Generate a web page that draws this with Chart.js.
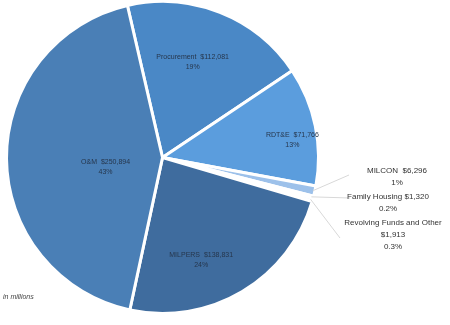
<!DOCTYPE html>
<html><head><meta charset="utf-8">
<script src="https://cdn.jsdelivr.net/npm/chart.js@4"></script>
<style>html,body{margin:0;padding:0;background:#fff}#w{width:450px;height:325px;position:relative}</style>
</head><body><div id="w"><canvas id="c" width="450" height="325"></canvas></div>
<script>
const categories = ["Procurement", "RDT&E", "MILCON", "Family Housing", "Revolving Funds and Other", "MILPERS", "O&M"];
const amounts = [112081, 71766, 6296, 1320, 1913, 138831, 250894];
const amountLabels = ["$112,081", "$71,766", "$6,296", "$1,320", "$1,913", "$138,831", "$250,894"];
const percentLabels = ["19%", "13%", "1%", "0.2%", "0.3%", "24%", "43%"];

const colors = ["#4a88c6", "#5b9ddd", "#9dc1ea", "#c6d9ef", "#e3ecf7", "#3f6c9e", "#4a7fb6"];
// inside label placement: radial fraction, angular shift (deg)
const inside = {0:[0.64,-4], 1:[0.84,4], 5:[0.70,10], 6:[0.37,-9]};
// outside labels: anchor of leader line end and text center
const outside = {
  2:{end:[349,175], text:[397,171], lines:["MILCON  $6,296","1%"]},
  3:{end:[350,198], text:[388,197], lines:["Family Housing $1,320","0.2%"]},
  4:{end:[340,238], text:[393,223], lines:["Revolving Funds and Other","$1,913","0.3%"]}
};

const labelPlugin = {
  id:'labels',
  afterDatasetsDraw(chart){
    const ctx = chart.ctx;
    const meta = chart.getDatasetMeta(0);
    ctx.save();
    ctx.font = '7px "Liberation Sans", Arial, sans-serif';
    ctx.fillStyle = '#26364c';
    ctx.textAlign = 'center';
    ctx.textBaseline = 'middle';
    meta.data.forEach((arc,i)=>{
      const p = arc.getProps(['x','y','startAngle','endAngle','outerRadius'],true);
      const mid = (p.startAngle+p.endAngle)/2;
      if (inside[i]) {
        const [f,shift] = inside[i];
        const a = mid + shift*Math.PI/180;
        const x = p.x + Math.cos(a)*p.outerRadius*f;
        const y = p.y + Math.sin(a)*p.outerRadius*f;
        ctx.fillText(categories[i]+'  '+amountLabels[i], x, y-5);
        ctx.fillText(percentLabels[i], x, y+5);
      } else if (outside[i]) {
        const o = outside[i];
        const sx = p.x + Math.cos(mid)*(p.outerRadius-2);
        const sy = p.y + Math.sin(mid)*(p.outerRadius-2);
        ctx.strokeStyle = '#d8d8d8';
        ctx.lineWidth = 1;
        ctx.beginPath(); ctx.moveTo(sx,sy); ctx.lineTo(o.end[0],o.end[1]); ctx.stroke();
        ctx.font = '8px "Liberation Sans", Arial, sans-serif';
        ctx.fillStyle = '#333';
        o.lines.forEach((t,k)=>ctx.fillText(t, o.text[0], o.text[1]+k*12));
        ctx.font = '7px "Liberation Sans", Arial, sans-serif';
        ctx.fillStyle = '#26364c';
      }
    });
    ctx.textAlign='left';
    ctx.font = 'italic 7px "Liberation Sans", Arial, sans-serif';
    ctx.fillStyle = '#444';
    ctx.fillText('in millions', 3, 297);
    ctx.restore();
  }
};

new Chart(document.getElementById('c'), {
  type:'pie',
  data:{labels:categories, datasets:[{data:amounts, backgroundColor:colors, borderColor:'#ffffff', borderWidth:3}]},
  options:{
    responsive:false, animation:false, rotation:-13,
    layout:{padding:{left:0, top:0, right:125, bottom:10}},
    plugins:{legend:{display:false}, tooltip:{enabled:false}}
  },
  plugins:[labelPlugin]
});
</script></body></html>
